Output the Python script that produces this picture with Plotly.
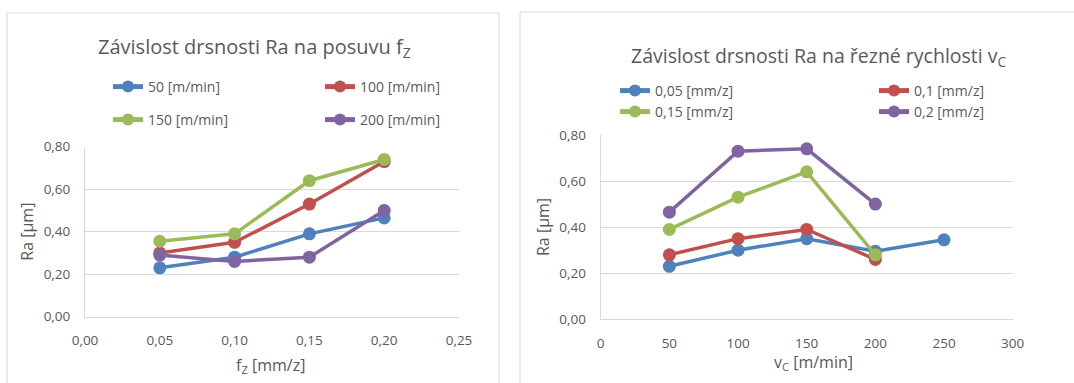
import plotly.graph_objects as go

W, H = 1074, 383

# ---------------- data ----------------
fz_values = [0.05, 0.10, 0.15, 0.20]
left_series_names = ["50 [m/min]", "100 [m/min]", "150 [m/min]", "200 [m/min]"]
ra_vc50 = [0.23, 0.28, 0.39, 0.465]
ra_vc100 = [0.30, 0.35, 0.53, 0.73]
ra_vc150 = [0.355, 0.39, 0.64, 0.74]
ra_vc200 = [0.29, 0.26, 0.28, 0.50]

vc_values_short = [50, 100, 150, 200]
vc_values_long = [50, 100, 150, 200, 250]
right_series_names = ["0,05 [mm/z]", "0,1 [mm/z]", "0,15 [mm/z]", "0,2 [mm/z]"]
ra_fz005 = [0.23, 0.30, 0.35, 0.295, 0.345]
ra_fz01 = [0.28, 0.35, 0.39, 0.26]
ra_fz015 = [0.39, 0.53, 0.64, 0.28]
ra_fz02 = [0.465, 0.73, 0.74, 0.50]

colors = ["#4F81BD", "#C0504D", "#9BBB59", "#8064A2"]

FONT = "Open Sans"
GRAY = "#595959"


def px_x(p):
    return p / W


def px_y(p):
    return 1 - p / H


fig = go.Figure()

left_data = [ra_vc50, ra_vc100, ra_vc150, ra_vc200]
right_data = [ra_fz005, ra_fz01, ra_fz015, ra_fz02]
right_x = [vc_values_long, vc_values_short, vc_values_short, vc_values_short]

# legend placement: (text_x_px, center_y_px) per trace
legend_pos = [(150, 87), (362, 87), (150, 120), (362, 120),
              (657, 91), (916, 91), (657, 112), (916, 112)]

legend_layouts = {}


def legend_name(k):
    return "legend" if k == 0 else f"legend{k + 1}"


for k, (tx, cy) in enumerate(legend_pos):
    legend_layouts[legend_name(k)] = dict(
        x=px_x(tx - 42), y=px_y(cy), xanchor="left", yanchor="middle",
        font=dict(family=FONT, size=14, color=GRAY),
        bgcolor="rgba(0,0,0,0)", borderwidth=0, itemsizing="constant")

for i, (name, ys) in enumerate(zip(left_series_names, left_data)):
    fig.add_trace(go.Scatter(x=fz_values, y=ys, mode="lines+markers", name=name,
                             line=dict(color=colors[i], width=3.5),
                             marker=dict(color=colors[i], size=13),
                             xaxis="x", yaxis="y", legend=legend_name(i), showlegend=True))
for i, (name, xs, ys) in enumerate(zip(right_series_names, right_x, right_data)):
    fig.add_trace(go.Scatter(x=xs, y=ys, mode="lines+markers", name=name,
                             line=dict(color=colors[i], width=3.5),
                             marker=dict(color=colors[i], size=13),
                             xaxis="x2", yaxis="y2", legend=legend_name(i + 4), showlegend=True))

axis_common = dict(showline=True, linecolor="#d9d9d9", linewidth=1, zeroline=False,
                   tickfont=dict(family=FONT, size=13.5, color=GRAY),
                   ticks="outside", tickcolor="rgba(0,0,0,0)", automargin=False)

fig.update_layout(
    width=W, height=H,
    showlegend=True,
    margin=dict(l=0, r=0, t=0, b=0, pad=0, autoexpand=False),
    paper_bgcolor="white", plot_bgcolor="white",
    separators=", ",
    font=dict(family=FONT, color=GRAY),
    xaxis=dict(domain=[px_x(85), px_x(459)], range=[0, 0.25], dtick=0.05, tick0=0,
               tickformat=".2f", showgrid=False, anchor="y", ticklen=11, **axis_common),
    yaxis=dict(domain=[px_y(316.7), px_y(146.7)], range=[0, 0.8], dtick=0.2, tick0=0,
               tickformat=".2f", showgrid=True, gridcolor="#d9d9d9", anchor="x", ticklen=11,
               **axis_common),
    xaxis2=dict(domain=[px_x(600.7), px_x(1012.7)], range=[0, 300], dtick=50, tick0=0,
                tickformat="d", showgrid=False, anchor="y2", ticklen=11, **axis_common),
    yaxis2=dict(domain=[px_y(319.3), px_y(135)], range=[0, 0.8], dtick=0.2, tick0=0,
                tickformat=".2f", showgrid=True, gridcolor="#d9d9d9", anchor="x2", ticklen=11,
                **axis_common),
    **legend_layouts,
)

# chart frames
fig.add_shape(type="rect", xref="paper", yref="paper",
              x0=px_x(7), x1=px_x(499), y0=px_y(400), y1=px_y(13),
              line=dict(color="#d9d9d9", width=1), fillcolor="rgba(0,0,0,0)", layer="below")
fig.add_shape(type="rect", xref="paper", yref="paper",
              x0=px_x(520), x1=px_x(1090), y0=px_y(400), y1=px_y(12),
              line=dict(color="#d9d9d9", width=1), fillcolor="rgba(0,0,0,0)", layer="below")

# titles
fig.add_annotation(text="Závislost drsnosti Ra na posuvu f<sub>Z</sub>", xref="paper", yref="paper",
                   x=px_x(254), y=px_y(48), xanchor="center", yanchor="middle", showarrow=False,
                   font=dict(family=FONT, size=20, color=GRAY))
fig.add_annotation(text="Závislost drsnosti Ra na řezné rychlosti v<sub>C</sub>", xref="paper", yref="paper",
                   x=px_x(819), y=px_y(56), xanchor="center", yanchor="middle", showarrow=False,
                   font=dict(family=FONT, size=19.5, color=GRAY))

# axis titles
fig.add_annotation(text="Ra [µm]", xref="paper", yref="paper", x=px_x(27), y=px_y(231.7),
                   xanchor="center", yanchor="middle", textangle=-90, showarrow=False,
                   font=dict(family=FONT, size=16, color=GRAY))
fig.add_annotation(text="Ra [µm]", xref="paper", yref="paper", x=px_x(543), y=px_y(227),
                   xanchor="center", yanchor="middle", textangle=-90, showarrow=False,
                   font=dict(family=FONT, size=16, color=GRAY))
fig.add_annotation(text="f<sub>Z</sub> [mm/z]", xref="paper", yref="paper", x=px_x(270), y=px_y(365),
                   xanchor="center", yanchor="middle", showarrow=False,
                   font=dict(family=FONT, size=16, color=GRAY))
fig.add_annotation(text="v<sub>C</sub> [m/min]", xref="paper", yref="paper", x=px_x(813), y=px_y(362),
                   xanchor="center", yanchor="middle", showarrow=False,
                   font=dict(family=FONT, size=16, color=GRAY))

fig.write_html("out.html", config={"displayModeBar": False},
               post_script="document.body.style.margin='0';document.body.style.overflow='hidden';")
